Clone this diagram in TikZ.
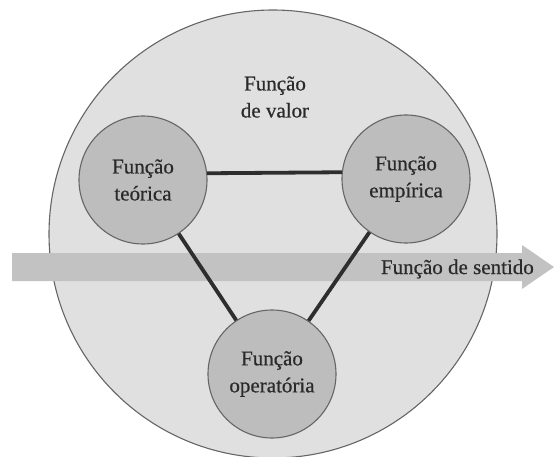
\documentclass[tikz,border=0pt]{standalone}
\usepackage{fontspec}
\setmainfont{Liberation Serif}[BoldFont={Liberation Serif},BoldFeatures={FakeBold=0.5}]
\definecolor{bigfill}{HTML}{E0E0E0}
\definecolor{smallfill}{HTML}{BDBDBD}
\definecolor{edgegray}{HTML}{666666}
\definecolor{bandgray}{HTML}{C2C2C2}
\definecolor{linedark}{HTML}{2E2E2E}
\definecolor{textdark}{HTML}{2A2A2A}
\tikzset{
  bigcircle/.style={circle, draw=edgegray, line width=1.1pt, fill=bigfill, minimum size=448pt, inner sep=0pt},
  funcbox/.style={circle, draw=edgegray, line width=1.1pt, fill=smallfill, minimum size=128pt, inner sep=0pt,
     align=center, text=textdark, font=\fontsize{21}{27}\selectfont\bfseries},
  label/.style={align=center, text=textdark, font=\fontsize{21}{27}\selectfont\bfseries, inner sep=0pt},
  link/.style={draw=linedark, line width=3.8pt},
  band/.style={fill=bandgray}
}
\begin{document}
\begin{tikzpicture}[x=1pt,y=-1pt]
\useasboundingbox (0,0) rectangle (554,457);
\node[bigcircle] (V) at (273,234) {};
\node[label] (valor) at (275,97) {Função\\de valor};
\fill[band] (12,253) -- (522,253) -- (522,245) -- (554,267) -- (522,289) -- (522,281) -- (12,281) -- cycle;
\node[label, anchor=east] (sentido) at (534,269) {Função de sentido};
\node[funcbox] (T) at (143,180) {Função\\teórica};
\node[funcbox] (E) at (406,179) {Função\\empírica};
\node[funcbox] (O) at (272,374) {Função\\operatória};
\draw[link] (T.6) -- (E.174);
\draw[link] (T) -- (O);
\draw[link] (E) -- (O);
\end{tikzpicture}
\end{document}
